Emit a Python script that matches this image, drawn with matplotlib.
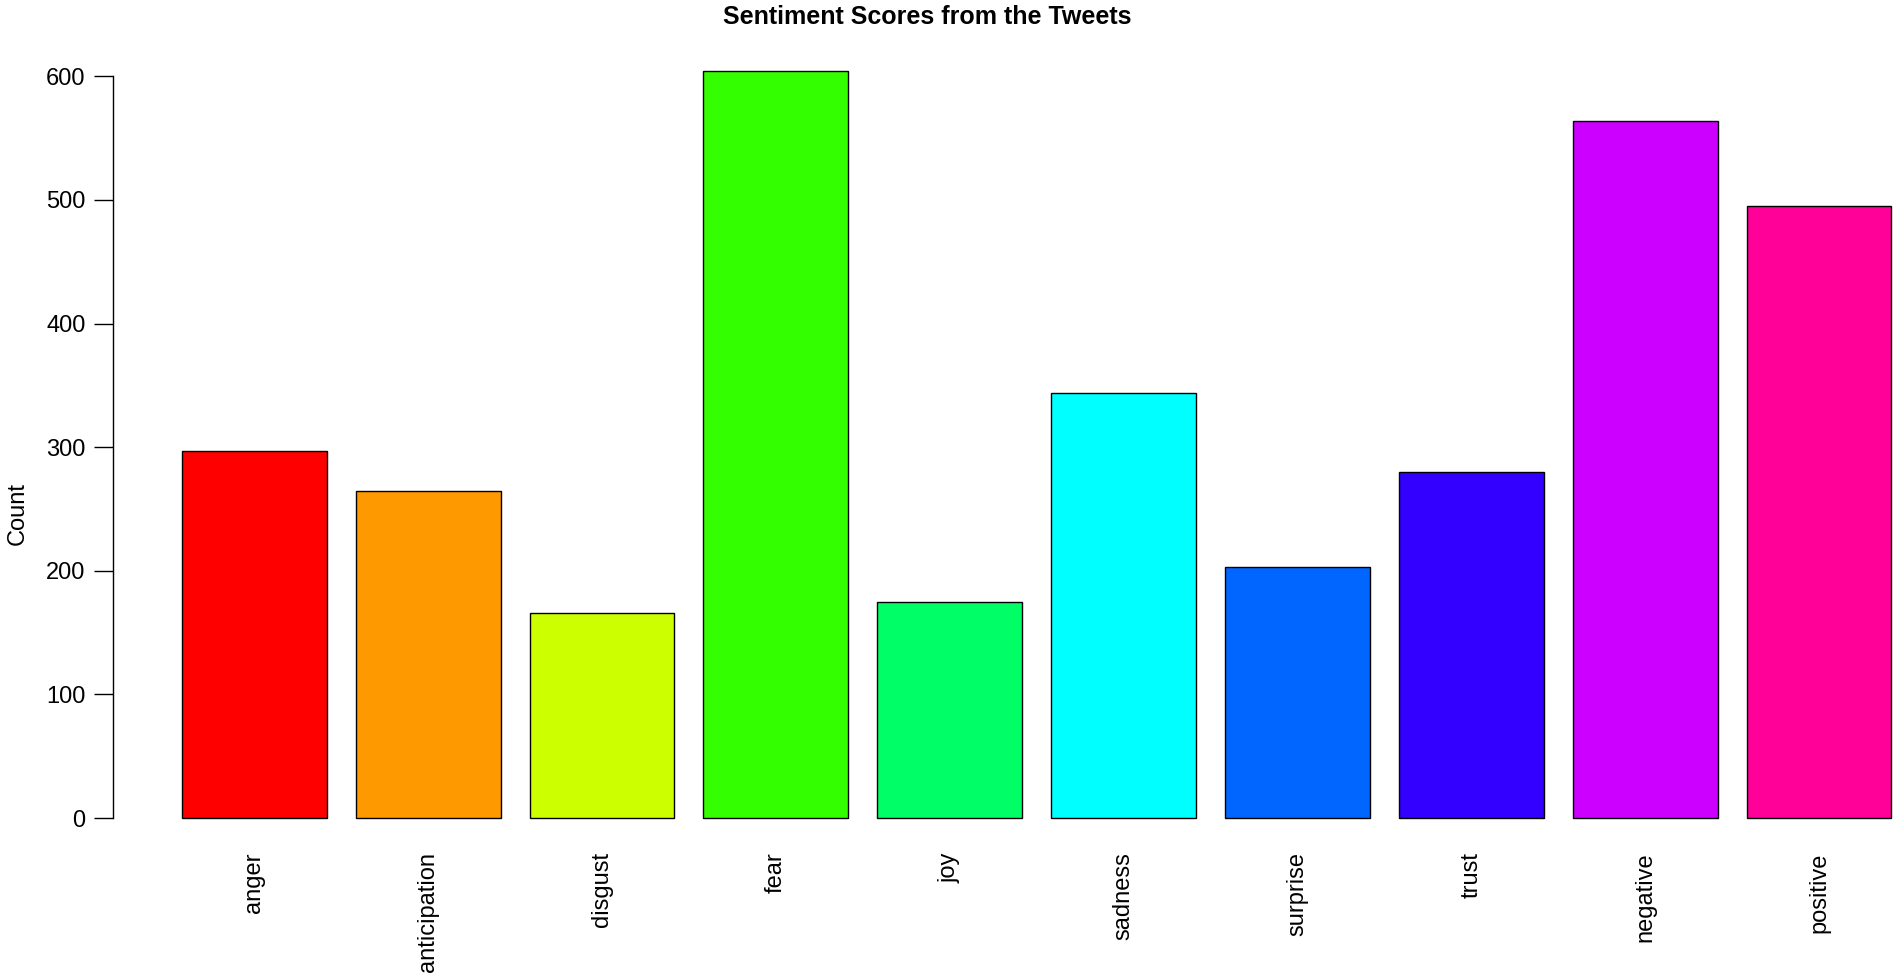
import matplotlib
matplotlib.use("Agg")
import matplotlib.pyplot as plt

plt.rcParams["font.family"] = ["Liberation Sans", "DejaVu Sans"]

categories = ["anger", "anticipation", "disgust", "fear", "joy",
              "sadness", "surprise", "trust", "negative", "positive"]
counts = [297, 265, 166, 604, 175, 344, 203, 280, 564, 495]
colors = ["#FF0000", "#FF9900", "#CCFF00", "#33FF00", "#00FF66",
          "#00FFFF", "#0066FF", "#3300FF", "#CC00FF", "#FF0099"]
yticks = [0, 100, 200, 300, 400, 500, 600]

fig = plt.figure(figsize=(19, 9.8), dpi=100)
# plot region like R's barplot; right side runs off the image
ax = fig.add_axes([0.0597, 0.1347, 0.9718, 0.8229])

# R barplot layout: width 1, space 0.2
xs = [0.7 + 1.2 * i for i in range(len(categories))]
ax.bar(xs, counts, width=1.0, color=colors, edgecolor="black", linewidth=1.0)

ymax = max(counts)
ax.set_xlim(0.2 - 0.04 * 11.8, 12.0 + 0.04 * 11.8)
ax.set_ylim(-0.04 * ymax, ymax * 1.04)

for s in ["top", "right", "bottom"]:
    ax.spines[s].set_visible(False)
ax.spines["left"].set_bounds(0, 600)
ax.spines["left"].set_linewidth(1.0)

ax.set_yticks(yticks)
ax.set_yticklabels([str(v) for v in yticks], fontsize=17)
ax.tick_params(axis="y", length=14, width=1.0, pad=6)

ax.set_xticks(xs)
ax.set_xticklabels(categories, rotation=90, fontsize=17, va="top")
ax.tick_params(axis="x", length=0, pad=3)

fig.text(0.0095, 0.476, "Count", rotation=90, fontsize=17,
         ha="center", va="center")
fig.text(0.488, 0.983, "Sentiment Scores from the Tweets", fontsize=18,
         fontweight="bold", ha="center", va="center")

fig.savefig("out.png", dpi=100)
